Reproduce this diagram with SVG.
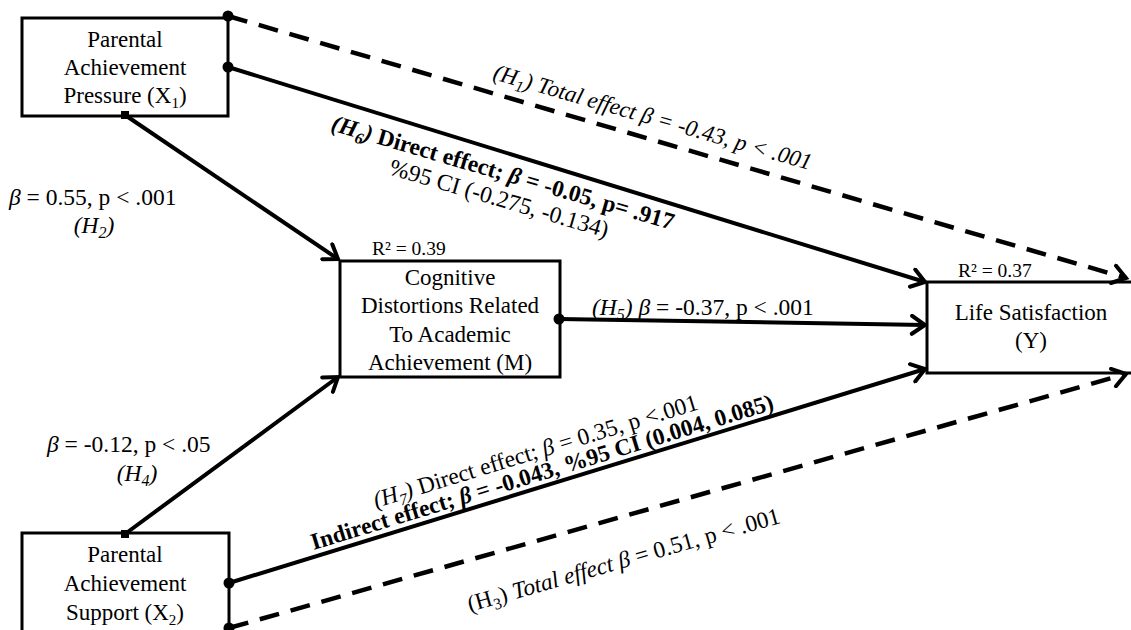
<svg xmlns="http://www.w3.org/2000/svg" width="1131" height="630" viewBox="0 0 1131 630">
  <style>
    .box { fill: #fff; stroke: #000; stroke-width: 3; }
    .node { font-family: "Liberation Serif", "Times New Roman", serif; font-size: 23px; fill: #000; text-anchor: middle; }
    .lbl { font-family: "Liberation Serif", "Times New Roman", serif; font-size: 23.5px; fill: #000; }
    .r2 { font-family: "Liberation Serif", "Times New Roman", serif; font-size: 19.5px; fill: #000; }
    .it { font-style: italic; }
    .b { font-weight: bold; }
    .solid { fill: none; stroke: #000; stroke-width: 4; }
    .dash { fill: none; stroke: #000; stroke-width: 4.5; stroke-dasharray: 20 12; }
  </style>
  <defs>
    <marker id="arrow" markerUnits="userSpaceOnUse" viewBox="0 0 22 22" markerWidth="22" markerHeight="22" refX="18" refY="11" orient="auto">
      <path d="M5,2 L18,11 L5,20" fill="none" stroke="#000" stroke-width="4" stroke-linecap="round" stroke-linejoin="miter"/>
    </marker>
    <marker id="dot" markerUnits="userSpaceOnUse" viewBox="0 0 14 14" markerWidth="14" markerHeight="14" refX="7" refY="7">
      <circle cx="7" cy="7" r="5.5" fill="#000"/>
    </marker>
    <marker id="sq" markerUnits="userSpaceOnUse" viewBox="0 0 10 10" markerWidth="10" markerHeight="10" refX="5" refY="5">
      <rect x="1" y="1" width="8" height="8" fill="#000"/>
    </marker>
  </defs>

  <!-- Nodes -->
  <g id="x1">
    <rect class="box" x="22" y="18" width="206" height="98"/>
    <text class="node" x="125" y="47">Parental</text>
    <text class="node" x="125" y="75">Achievement</text>
    <text class="node" x="125" y="103">Pressure (X<tspan font-size="15" dy="5">1</tspan><tspan dy="-5">)</tspan></text>
  </g>

  <g id="x2">
    <rect class="box" x="22" y="533" width="207" height="100"/>
    <text class="node" x="125" y="562">Parental</text>
    <text class="node" x="125" y="591">Achievement</text>
    <text class="node" x="125" y="620">Support (X<tspan font-size="15" dy="5">2</tspan><tspan dy="-5">)</tspan></text>
  </g>

  <g id="m">
    <rect class="box" x="340" y="261" width="220" height="116"/>
    <text class="r2" x="372" y="255">R² = 0.39</text>
    <text class="node" x="450" y="285">Cognitive</text>
    <text class="node" x="450" y="313">Distortions Related</text>
    <text class="node" x="450" y="342">To Academic</text>
    <text class="node" x="450" y="370">Achievement (M)</text>
  </g>

  <g id="y">
    <rect class="box" x="927" y="282" width="230" height="91"/>
    <text class="r2" x="958" y="277">R² = 0.37</text>
    <text class="node" x="1031" y="320">Life Satisfaction</text>
    <text class="node" x="1031" y="348">(Y)</text>
  </g>

  <!-- Connectors -->
  <g id="connectors">
    <path class="dash" d="M228,16 L1126,278" marker-start="url(#dot)" marker-end="url(#arrow)"/>
    <path class="solid" d="M228,67 L925,282" marker-start="url(#dot)" marker-end="url(#arrow)"/>
    <path class="solid" d="M125,115 L338,259" marker-start="url(#sq)" marker-end="url(#arrow)"/>
    <path class="solid" d="M125,534 L338,377" marker-start="url(#sq)" marker-end="url(#arrow)"/>
    <path class="solid" d="M559,319 L925,325" marker-start="url(#dot)" marker-end="url(#arrow)"/>
    <path class="solid" d="M229,583 L925,369" marker-start="url(#dot)" marker-end="url(#arrow)"/>
    <path class="dash" d="M229,628 L1126,374" marker-start="url(#dot)" marker-end="url(#arrow)"/>
  </g>

  <!-- Path labels -->
  <g id="labels">
    <text class="lbl" x="9" y="205"><tspan class="it">β</tspan> = 0.55, p &lt; .001</text>
    <text class="lbl it" x="94" y="233" text-anchor="middle">(H<tspan font-size="16" dy="5">2</tspan><tspan dy="-5">)</tspan></text>

    <text class="lbl" x="47" y="452"><tspan class="it">β</tspan> = -0.12, p &lt; .05</text>
    <text class="lbl it" x="137" y="481" text-anchor="middle">(H<tspan font-size="16" dy="5">4</tspan><tspan dy="-5">)</tspan></text>

    <text class="lbl it" style="font-size:23px" transform="translate(492,79) rotate(16)">(H<tspan font-size="16" dy="5">1</tspan><tspan dy="-5">) Total effect β = -0.43, p &lt; .001</tspan></text>

    <g transform="translate(330,130) rotate(16.3)">
      <text class="lbl b"><tspan class="it">(H<tspan font-size="16" dy="5">6</tspan><tspan dy="-5">)</tspan></tspan> Direct effect; <tspan class="it">β</tspan> = -0.05, p= .917</text>
      <text class="lbl" x="68" y="26">%95 CI (-0.275, -0.134)</text>
    </g>

    <text class="lbl" x="592" y="315"><tspan class="it">(H<tspan font-size="16" dy="5">5</tspan><tspan dy="-5">) β</tspan></tspan> = -0.37, p &lt; .001</text>

    <g transform="translate(376,508) rotate(-17)">
      <text class="lbl"><tspan class="it">(H<tspan font-size="16" dy="5">7</tspan><tspan dy="-5">)</tspan></tspan> Direct effect; <tspan class="it">β</tspan> = 0.35, p &lt;.001</text>
      <text class="lbl b" x="-72" y="22">Indirect effect; <tspan class="it">β</tspan> = -0.043, %95 CI (0.004, 0.085)</text>
    </g>

    <text class="lbl" transform="translate(470,612) rotate(-16)">(H<tspan font-size="16" dy="5">3</tspan><tspan dy="-5">) </tspan><tspan class="it">Total effect</tspan>  <tspan class="it">β</tspan> = 0.51, p &lt; .001</text>
  </g>
</svg>
